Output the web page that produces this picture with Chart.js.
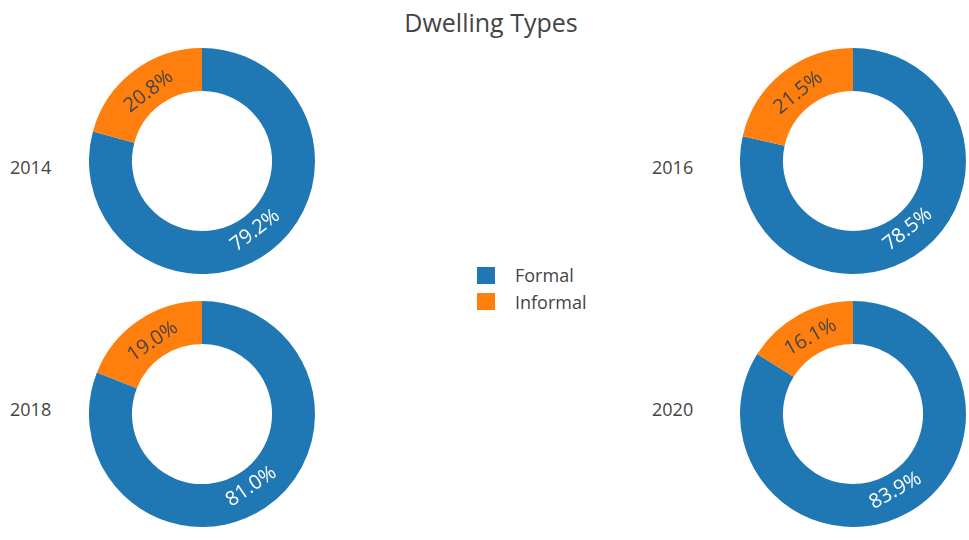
<!DOCTYPE html>
<html>
<head>
<meta charset="utf-8">
<script src="https://cdn.jsdelivr.net/npm/chart.js@4.4.1/dist/chart.umd.min.js"></script>
<style>
  body { margin: 0; background: #fff; font-family: "Open Sans", Verdana, Arial, sans-serif; color: #444; }
  #page { position: relative; width: 969px; height: 540px; overflow: hidden; }
  .abs { position: absolute; white-space: nowrap; }
  .lbl { font-size: 18px; line-height: 24px; }
  .sw { position: absolute; width: 18px; height: 17px; }
</style>
</head>
<body>
<div id="page">
  <div class="abs" id="title" style="left:0;width:982px;text-align:center;top:6px;font-size:25px;line-height:32px;">Dwelling Types</div>
  <canvas id="c0" class="abs" width="226" height="226" style="left:89px;top:48px"></canvas>
  <canvas id="c1" class="abs" width="226" height="226" style="left:740px;top:48px"></canvas>
  <canvas id="c2" class="abs" width="226" height="226" style="left:89px;top:301px"></canvas>
  <canvas id="c3" class="abs" width="226" height="226" style="left:740px;top:301px"></canvas>
  <div class="abs lbl" style="left:10px;top:155px">2014</div>
  <div class="abs lbl" style="left:652px;top:155px">2016</div>
  <div class="abs lbl" style="left:10px;top:397px">2018</div>
  <div class="abs lbl" style="left:652px;top:397px">2020</div>
  <div id="legend"></div>
</div>
<script>
var categories = ["Formal", "Informal"];
var years = ["2014", "2016", "2018", "2020"];
var formal = [79.2, 78.5, 81.0, 83.9];
var informal = [20.8, 21.5, 19.0, 16.1];
var colors = ["#1f77b4", "#ff7f0e"];
var textColors = ["#ffffff", "#444444"];

// legend
var legend = document.getElementById("legend");
categories.forEach(function(name, i) {
	var sq = document.createElement("div");
	sq.className = "sw";
	sq.style.left = "477px";
	sq.style.top = (267 + i * 26) + "px";
	sq.style.background = colors[i];
	legend.appendChild(sq);
	var t = document.createElement("div");
	t.className = "abs lbl";
	t.style.left = "515px";
	t.style.top = (263 + i * 27) + "px";
	t.textContent = name;
	legend.appendChild(t);
});

// rotated percent labels inside the slices
var sliceLabels = {
	id: "sliceLabels",
	afterDatasetsDraw: function(chart) {
		var ctx = chart.ctx;
		var meta = chart.getDatasetMeta(0);
		var data = chart.data.datasets[0].data;
		meta.data.forEach(function(arc, i) {
			var p = arc.getProps(["x", "y", "startAngle", "endAngle", "innerRadius", "outerRadius"], true);
			var mid = (p.startAngle + p.endAngle) / 2;
			var r = p.outerRadius * 0.775;
			var x = p.x + Math.cos(mid) * r;
			var y = p.y + Math.sin(mid) * r;
			var rot = mid + Math.PI / 2;
			while (rot > Math.PI) rot -= 2 * Math.PI;
			while (rot <= -Math.PI) rot += 2 * Math.PI;
			if (rot > Math.PI / 2) rot -= Math.PI;
			if (rot < -Math.PI / 2) rot += Math.PI;
			ctx.save();
			ctx.translate(x, y);
			ctx.rotate(rot);
			ctx.font = "20px 'Open Sans'";
			ctx.fillStyle = textColors[i];
			ctx.textAlign = "center";
			ctx.textBaseline = "middle";
			ctx.fillText(data[i].toFixed(1) + "%", 0, 0);
			ctx.restore();
		});
	}
};

years.forEach(function(yr, k) {
	var ctx = document.getElementById("c" + k);
	new Chart(ctx, {
		type: "doughnut",
		data: {
			labels: categories,
			datasets: [{
				data: [formal[k], informal[k]],
				backgroundColor: colors,
				borderWidth: 0,
				hoverOffset: 0
			}]
		},
		options: {
			responsive: false,
			animation: false,
			cutout: "62%",
			plugins: {
				legend: { display: false },
				tooltip: { enabled: false }
			}
		},
		plugins: [sliceLabels]
	});
});
</script>
</body>
</html>
